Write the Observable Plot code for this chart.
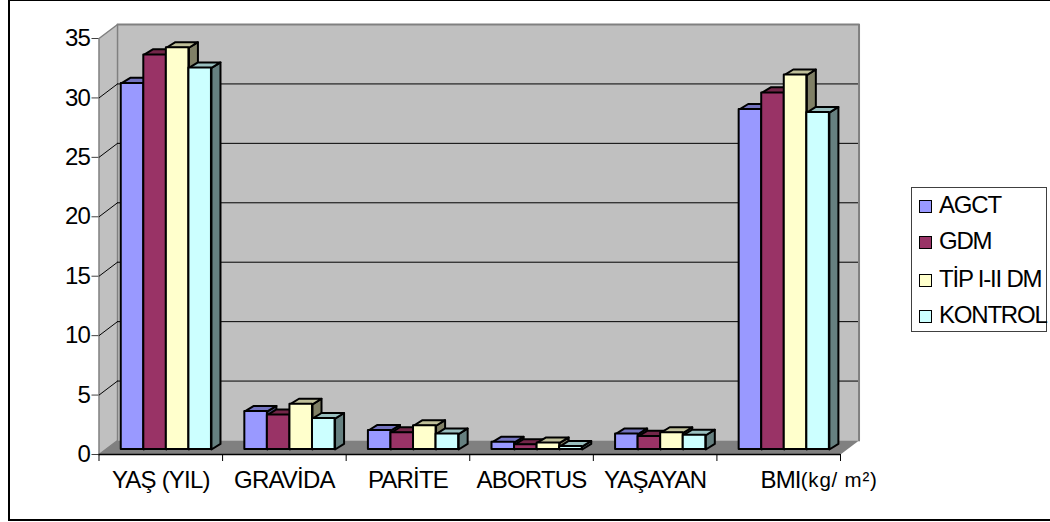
<!DOCTYPE html>
<html lang="tr">
<head>
<meta charset="utf-8">
<title>Gruplara göre demografik ölçümler</title>
<script src="https://cdn.jsdelivr.net/npm/d3@7"></script>
<script src="https://cdn.jsdelivr.net/npm/@observablehq/plot@0.6"></script>
<style>
  html, body { margin: 0; background: #fff; }
  #chart { position: relative; width: 1050px; height: 522px; overflow: hidden; font-family: "Liberation Sans", Arial, sans-serif; color: #000; }
  #chart svg { position: absolute; left: 0; top: 0; background: transparent; }
  #chart svg text { letter-spacing: -0.8px; }
  #border { position: absolute; left: 8px; top: -1px; width: 1060px; height: 518px; border: 2px solid #000; box-sizing: content-box; }
  #legend { position: absolute; left: 911px; top: 187px; width: 136px; height: 145px; border: 1px solid #404040; background: #fff; box-sizing: border-box; }
  .row { position: absolute; left: 0; height: 26px; line-height: 26px; font-size: 24px; letter-spacing: -1.2px; white-space: nowrap; }
  .row i { position: absolute; left: 7px; top: 7px; width: 11px; height: 11px; border: 1.5px solid #000; }
  .row span { position: absolute; left: 27px; top: -1px; }
</style>
</head>
<body>
<div id="chart"><div id="border"></div></div>
<script>
// Measurements per patient group
const categories = ["YAŞ (YIL)", "GRAVİDA", "PARİTE", "ABORTUS", "YAŞAYAN", "BMI"];
const unitLabel = "(kg/ m²)";
const seriesNames = ["AGCT", "GDM", "TİP I-II DM", "KONTROL"];
const agct    = [30.8, 3.2, 1.6, 0.6, 1.3, 28.6];
const gdm     = [33.2, 2.9, 1.4, 0.4, 1.1, 30.0];
const tip     = [33.8, 3.8, 2.0, 0.55, 1.4, 31.5];
const kontrol = [32.1, 2.6, 1.3, 0.25, 1.2, 28.35];
const seriesValues = [agct, gdm, tip, kontrol];
const yTicks = [0, 5, 10, 15, 20, 25, 30, 35];

// Face shades: front, top, side
const frontColors = ["#9999ff", "#993366", "#ffffcc", "#ccffff"];
const topColors   = ["#7373bf", "#732649", "#bfbf99", "#99bfbf"];
const sideColors  = ["#4d4d80", "#4d1a33", "#808066", "#668080"];

// Oblique projection, expressed in data units of each scale
const wallX = 0.15, wallY = 1.18;      // depth of the box
const barX = 0.073, barY = 0.47;       // depth of a bar
const gap = 0.18, slot = 0.1825;       // bar placement inside a category
const liftY = -5;                      // bars stand on the floor, behind the axis line

const polygon = (pts) => [...pts, pts[0]].map(([x, y]) => ({x, y}));
const facePoints = (face) => seriesValues[0].flatMap((_, c) => face(c));

const wallMarks = [
  // back wall
  Plot.line(polygon([[wallX, wallY], [6 + wallX, wallY], [6 + wallX, 35 + wallY], [wallX, 35 + wallY]]),
    {x: "x", y: "y", fill: "#c0c0c0", stroke: "none"}),
  // left wall
  Plot.line(polygon([[0, 0], [wallX, wallY], [wallX, 35 + wallY], [0, 35]]),
    {x: "x", y: "y", fill: "#c0c0c0", stroke: "#808080", strokeWidth: 1.5}),
  // floor
  Plot.line(polygon([[0, 0], [6, 0], [6 + wallX, wallY], [wallX, wallY]]),
    {x: "x", y: "y", fill: "#808080", stroke: "none"}),
  // gridlines on the back wall and their continuation on the left wall
  Plot.ruleY(yTicks.slice(1, -1), {dx: 18.5, dy: -14, stroke: "#000", strokeWidth: 1}),
  Plot.link(yTicks.slice(1, -1), {x1: () => 0, y1: (d) => d, x2: () => wallX, y2: (d) => d + wallY, stroke: "#000", strokeWidth: 1}),
  // top and right edges of the back wall
  Plot.line([{x: wallX, y: 35 + wallY}, {x: 6 + wallX, y: 35 + wallY}, {x: 6 + wallX, y: wallY}],
    {x: "x", y: "y", stroke: "#808080", strokeWidth: 2})
];

const barMarks = seriesValues.flatMap((values, s) => {
  const left = (c) => c + gap + s * slot;
  const right = (c) => left(c) + slot;
  const top = facePoints((c) => polygon([
    [left(c), values[c]], [right(c), values[c]], [right(c) + barX, values[c] + barY], [left(c) + barX, values[c] + barY]
  ]).map((p) => ({...p, c})));
  const side = facePoints((c) => polygon([
    [right(c), 0], [right(c) + barX, barY], [right(c) + barX, values[c] + barY], [right(c), values[c]]
  ]).map((p) => ({...p, c})));
  const common = {stroke: "#000", strokeWidth: 2, strokeLinejoin: "round", dy: liftY};
  return [
    Plot.line(side, {x: "x", y: "y", z: "c", fill: sideColors[s], ...common}),
    Plot.line(top, {x: "x", y: "y", z: "c", fill: topColors[s], ...common}),
    Plot.rect(values, {x1: (_, c) => left(c), x2: (_, c) => right(c), y1: () => 0, y2: (d) => d, fill: frontColors[s], ...common})
  ];
});

const fig = Plot.plot({
  width: 1050,
  height: 522,
  marginLeft: 98.5,
  marginRight: 210,
  marginTop: 38,
  marginBottom: 68,
  x: {domain: [0, 6]},
  y: {domain: [0, 35]},
  style: {fontFamily: "'Liberation Sans', Arial, sans-serif", background: "transparent", color: "#000"},
  marks: [
    ...wallMarks,
    ...barMarks,
    Plot.ruleY([0], {stroke: "#000", strokeWidth: 1.5}),
    Plot.axisY({ticks: yTicks, tickSize: 7, tickPadding: 2, label: null, fontSize: 24, stroke: "#404040", fill: "#000"}),
    Plot.axisX({ticks: d3.range(0, 7), tickSize: 7, tickFormat: () => "", label: null, stroke: "#000"}),
    // category names under the axis; the BMI label is set apart with its unit
    Plot.text(categories.slice(0, 5), {x: (_, i) => i + 0.5, y: () => 0, dy: 26, fontSize: 24, fill: "#000"}),
    Plot.text([categories[5]], {x: () => 5.5, y: () => 0, dy: 26, dx: 22, textAnchor: "end", fontSize: 24, fill: "#000"}),
    Plot.text([unitLabel], {x: () => 5.5, y: () => 0, dy: 26, dx: 22, textAnchor: "start", fontSize: 20.5, fill: "#000"})
  ]
});
// The unit is set a little looser than the rest of the text
d3.select(fig).selectAll("text").filter(function () { return this.textContent === unitLabel; })
  .style("letter-spacing", "0.8px");
document.getElementById("chart").prepend(fig);

// Legend box beside the plot
const legend = document.createElement("div");
legend.id = "legend";
const rowTops = [5, 41, 79, 115];
seriesNames.forEach((name, i) => {
  const row = document.createElement("div");
  row.className = "row";
  row.style.top = rowTops[i] + "px";
  const swatch = document.createElement("i");
  swatch.style.background = frontColors[i];
  const label = document.createElement("span");
  label.textContent = name;
  row.append(swatch, label);
  legend.append(row);
});
document.getElementById("chart").append(legend);
</script>
</body>
</html>
